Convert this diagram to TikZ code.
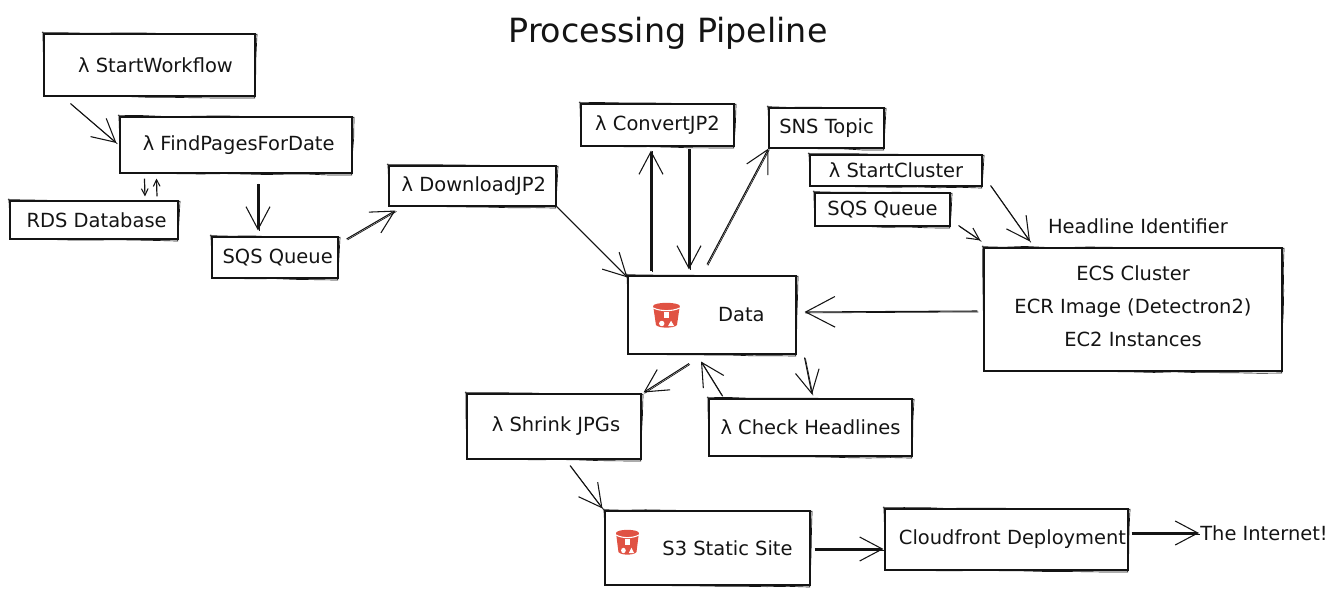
\documentclass[tikz,border=0pt]{standalone}
\usepackage{fontspec}
\setmainfont{DejaVu Sans}
\usepackage{xcolor}
\usepackage{tikz}
\usetikzlibrary{arrows.meta,decorations.pathmorphing}
\definecolor{inkblack}{RGB}{20, 20, 20}
\definecolor{bucketred}{RGB}{224, 82, 67}
\tikzset{
  rough/.style={decorate, decoration={random steps, segment length=16pt, amplitude=0.35pt}},
  boxsize/.style 2 args={minimum width=#1*0.75pt, minimum height=#2*0.75pt},
  box/.style={draw=inkblack, line width=0.8pt, inner sep=0pt, text=inkblack, font=\fontsize{14.6}{25}\selectfont, align=center,
    append after command={\pgfextra{\draw[inkblack, line width=0.5pt, rough]
      ([shift={(-1.5,-0.8)}]\tikzlastnode.north west) -- ([shift={(1.5,0.8)}]\tikzlastnode.north east)
      -- ([shift={(-0.8,1.5)}]\tikzlastnode.south east) -- ([shift={(0.8,-0.8)}]\tikzlastnode.south west)
      -- ([shift={(-0.6,-2)}]\tikzlastnode.north west);}}},
  flow/.style={draw=inkblack, line width=0.8pt, -{Straight Barb[length=17pt, width=18pt, line width=0.8pt]},
    postaction={draw=inkblack, -, line width=0.5pt, transform canvas={xshift=0.7pt, yshift=-0.7pt}}},
  flowsmall/.style={draw=inkblack, line width=0.9pt, -{Straight Barb[length=5pt, width=5pt, line width=0.8pt]}},
  caption/.style={inner sep=0pt, text=inkblack, font=\fontsize{14.6}{18}\selectfont},
  bucket/.pic={
    \fill[bucketred] (-13.3,-10) -- (-10.5,9) .. controls (-8,12.5) and (8,12.5) .. (10.5,9) -- (13.3,-10) -- cycle;
    \fill[bucketred] (0,-10) ellipse (13.3 and 3.2);
    \draw[white, line width=0.8pt] (-13.3,-8) .. controls (-6,-4.5) and (6,-4.5) .. (13.3,-8);
    \fill[white] (-2.7,-3.7) rectangle (2.7,1.7);
    \fill[white] (-4.7,7.5) circle (2.7);
    \fill[white] (4.6,4.7) -- (1.6,10) -- (7.6,10) -- cycle;
  }
}
\begin{document}
\begin{tikzpicture}[x=0.75pt, y=-0.75pt]
    \pgfmathsetseed{7}
    \useasboundingbox (0,0) rectangle (1341,595);

    % Title
    \node[inner sep=0pt, text=inkblack, font=\fontsize{25}{30}\selectfont] (title) at (668,33) {Processing Pipeline};

    % Left column
    \node[box, boxsize={211}{62}] (startwf) at (149.5,65) {\hspace*{9pt}λ StartWorkflow};
    \node[box, boxsize={232}{56}] (findpages) at (236,145) {\hspace*{4pt}λ FindPagesForDate};
    \node[box, boxsize={168}{38}] (rds) at (94,220) {\hspace*{4pt}RDS Database};
    \node[box, boxsize={126}{41}] (sqsleft) at (275,257.5) {\hspace*{4pt}SQS Queue};
    \node[box, boxsize={167}{40}] (download) at (472.5,186) {\hspace*{2pt}λ DownloadJP2};

    % Top row
    \node[box, boxsize={153}{42}] (convert) at (657.5,125) {λ ConvertJP2};
    \node[box, boxsize={115}{40}] (sns) at (826.5,128) {SNS Topic};
    \node[box, boxsize={172}{31}] (startcluster) at (896,170.5) {λ StartCluster};
    \node[box, boxsize={135}{33}] (sqsright) at (882.5,209.5) {SQS Queue};

    % Headline identifier
    \node[caption] (headline) at (1138,226) {Headline Identifier};
    \node[box, boxsize={298}{123}] (ecs) at (1133,309.5) {ECS Cluster\\ECR Image (Detectron2)\\EC2 Instances\\[-20pt]};

    % Data bucket
    \node[box, boxsize={168}{78}] (data) at (712,315) {\hspace*{44pt}Data};
    \pic at ([shift={(39,1)}]data.west) {bucket};

    % Lower row
    \node[box, boxsize={174}{65}] (shrink) at (554,426.5) {\hspace*{3pt}λ Shrink JPGs};
    \node[box, boxsize={203}{57}] (check) at (810.5,427.5) {λ Check Headlines};
    \node[box, boxsize={205}{74}] (site) at (707.5,548) {\hspace*{30pt}S3 Static Site};
    \pic[xscale=0.86] at ([shift={(23,-5)}]site.west) {bucket};
    \node[box, boxsize={243}{61}] (cloudfront) at (1006.5,539.5) {\hspace*{9pt}Cloudfront Deployment};
    \node[caption] (internet) at (1264,533) {The Internet!};

    % Connectors
    \draw[flow] ([shift={(27,7)}]startwf.south west) -- ([shift={(-3,-2)}]findpages.west);
    \draw[flowsmall] ([shift={(25,5)}]findpages.south west) -- ([shift={(51,-4)}]rds.north);
    \draw[flowsmall] ([shift={(63,-4)}]rds.north) -- ([shift={(37,5)}]findpages.south west);
    \draw[flow] ([shift={(22,10)}]findpages.south) -- ([shift={(-17,-6)}]sqsleft.north);
    \draw[flow] ([shift={(8,-18.5)}]sqsleft.east) -- ([shift={(7,4)}]download.south west);
    \draw[flow] (download.south east) -- ([shift={(0,2)}]data.north west);
    \draw[flow] ([shift={(-61,-4)}]data.north) -- ([shift={(-6.5,4)}]convert.south);
    \draw[flow] ([shift={(31.5,2)}]convert.south) -- ([shift={(-23,-6)}]data.north);
    \draw[flow] ([shift={(-5,-11)}]data.north) -- (sns.south west);
    \draw[flow] ([shift={(8,-1)}]startcluster.south east) -- ([shift={(-103,-6)}]ecs.north);
    \draw[flow, -{Straight Barb[length=9pt, width=9pt, line width=0.8pt]}] ([shift={(8,-1)}]sqsright.south east) -- ([shift={(-3,-7)}]ecs.north west);
    \draw[flow, -{Straight Barb[length=22pt, width=23pt, line width=0.8pt]}] ([shift={(-6,1.5)}]ecs.west) -- ([shift={(8,-3)}]data.east);
    \draw[flow] ([shift={(-23,9)}]data.south) -- ([shift={(2,-1)}]shrink.north east);
    \draw[flow] ([shift={(-88.5,-3)}]check.north) -- ([shift={(-11,7)}]data.south);
    \draw[flow] ([shift={(8,3)}]data.south east) -- ([shift={(1.5,-4)}]check.north);
    \draw[flow] ([shift={(16,6)}]shrink.south) -- ([shift={(-2,-2)}]site.north west);
    \draw[flow] ([shift={(4,1)}]site.east) -- ([shift={(-1,9.5)}]cloudfront.west);
    \draw[flow] ([shift={(3,-6.5)}]cloudfront.east) -- ([shift={(-1,0)}]internet.west);
\end{tikzpicture}
\end{document}
